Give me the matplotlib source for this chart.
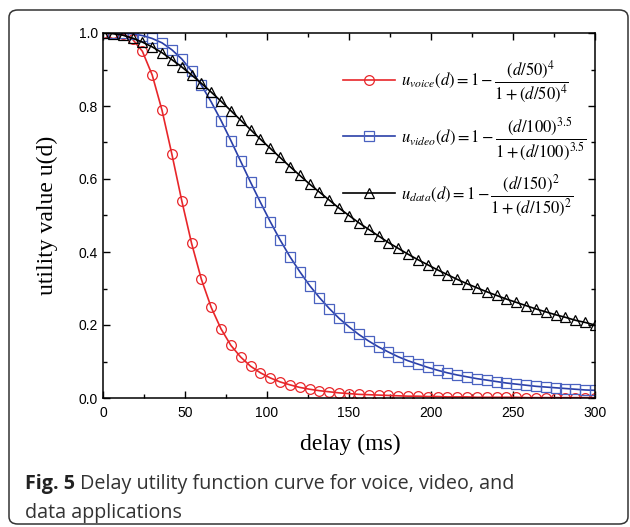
import matplotlib
matplotlib.use("Agg")
import matplotlib.pyplot as plt
from matplotlib.patches import FancyBboxPatch
from matplotlib.ticker import MultipleLocator

delay = list(range(0, 301, 6))

uVoice = [1.000, 1.000, 0.997, 0.983, 0.950, 0.885, 0.788, 0.668, 0.541, 0.424,
          0.325, 0.248, 0.189, 0.144, 0.112, 0.087, 0.069, 0.055, 0.044, 0.036,
          0.029, 0.024, 0.020, 0.017, 0.014, 0.012, 0.010, 0.009, 0.008, 0.007,
          0.006, 0.005, 0.005, 0.004, 0.004, 0.003, 0.003, 0.003, 0.002, 0.002,
          0.002, 0.002, 0.002, 0.001, 0.001, 0.001, 0.001, 0.001, 0.001, 0.001,
          0.001]

uVideo = [1.000, 1.000, 0.999, 0.998, 0.993, 0.985, 0.973, 0.954, 0.929, 0.896,
          0.857, 0.811, 0.760, 0.705, 0.648, 0.591, 0.536, 0.483, 0.433, 0.387,
          0.346, 0.308, 0.275, 0.245, 0.218, 0.195, 0.174, 0.156, 0.140, 0.126,
          0.113, 0.102, 0.093, 0.084, 0.076, 0.069, 0.063, 0.058, 0.053, 0.049,
          0.045, 0.041, 0.038, 0.035, 0.032, 0.030, 0.028, 0.026, 0.024, 0.022,
          0.021]

uData = [1.000, 0.998, 0.994, 0.986, 0.975, 0.962, 0.946, 0.927, 0.907, 0.885,
         0.862, 0.838, 0.813, 0.787, 0.761, 0.735, 0.709, 0.684, 0.659, 0.634,
         0.610, 0.586, 0.564, 0.542, 0.520, 0.500, 0.480, 0.462, 0.444, 0.426,
         0.410, 0.394, 0.379, 0.365, 0.351, 0.338, 0.325, 0.313, 0.302, 0.291,
         0.281, 0.271, 0.262, 0.253, 0.244, 0.236, 0.228, 0.221, 0.213, 0.207,
         0.200]

labels = [r'$u_{voice}(d)=1-\dfrac{\left(d/50\right)^4}{1+\left(d/50\right)^4}$',
          r'$u_{video}(d)=1-\dfrac{\left(d/100\right)^{3.5}}{1+\left(d/100\right)^{3.5}}$',
          r'$u_{data}(d)=1-\dfrac{\left(d/150\right)^2}{1+\left(d/150\right)^2}$']

plt.rcParams['mathtext.fontset'] = 'stix'
plt.rcParams['font.family'] = 'Liberation Sans'

W, H = 630, 527
fig = plt.figure(figsize=(W / 100, H / 100), dpi=100)
axL, axR, axT, axB = 103, 595, 33, 398
ax = fig.add_axes([axL / W, 1 - axB / H, (axR - axL) / W, (axB - axT) / H])

ax.plot(delay, uVoice, color='#e8262a', lw=1.2, marker='o', ms=7,
        mfc='none', mew=0.9, label=labels[0])
ax.plot(delay, uVideo, color='#2a3fa8', lw=1.2, marker='s', ms=6.5,
        mfc='none', mew=0.9, mec='#4a62c0', label=labels[1])
ax.plot(delay, uData, color='black', lw=1.2, marker='^', ms=7.5,
        mfc='none', mew=0.9, label=labels[2])

ax.set_xlim(0, 300)
ax.set_ylim(0, 1.0)
ax.xaxis.set_major_locator(MultipleLocator(50))
ax.xaxis.set_minor_locator(MultipleLocator(25))
ax.yaxis.set_major_locator(MultipleLocator(0.2))
ax.yaxis.set_minor_locator(MultipleLocator(0.1))
ax.set_yticks(ax.get_yticks())
ax.set_yticklabels([f"{v:.1f}" for v in ax.get_yticks()])
ax.set_ylim(0, 1.0)
ax.tick_params(which='both', direction='in', top=True, right=True, labelsize=10)
ax.tick_params(axis='x', pad=6)
ax.tick_params(which='major', length=5, width=1)
ax.tick_params(which='minor', length=3, width=1)
for s in ax.spines.values():
    s.set_linewidth(1.1)

ax.set_xlabel('delay (ms)', family='Liberation Serif', fontsize=17)
ax.xaxis.set_label_coords((350 - axL) / (axR - axL), (axB - 444) / (axB - axT))
ax.set_ylabel('utility value u(d)', family='Liberation Serif', fontsize=17)
ax.yaxis.set_label_coords((47 - axL) / (axR - axL), 0.5)
ax.xaxis.label.set_va('center')
ax.yaxis.label.set_va('center')

leg = ax.legend(loc='upper left', bbox_to_anchor=((343 - axL) / (axR - axL), (axB - 59) / (axB - axT)),
                frameon=False, fontsize=12, handlelength=3.1, labelspacing=0.62,
                handletextpad=0.4, borderaxespad=0, borderpad=0)

# rounded frame around the whole figure
frame = FancyBboxPatch((9 / W, 3 / H), (628 - 9) / W, (H - 3 - 10) / H,
                       boxstyle='round,pad=0,rounding_size=0.014',
                       transform=fig.transFigure, fill=False,
                       edgecolor='#333333', lw=1.1)
fig.patches.append(frame)

# caption with bold "Fig. 5"
capFont = 'Open Sans'
capColor = '#333333'
t = fig.text(25 / W, 1 - 484 / H, 'Fig. 5', family=capFont, weight='bold',
             fontsize=14.2, va='center', color='#222222')
fig.canvas.draw()
bb = t.get_window_extent(fig.canvas.get_renderer())
fig.text(bb.x1 / W, 1 - 484 / H, ' Delay utility function curve for voice, video, and',
         family=capFont, fontsize=14.2, va='center', color=capColor)
fig.text(25 / W, 1 - 513 / H, 'data applications', family=capFont, fontsize=14.2,
         va='center', color=capColor)

fig.savefig('out.png', dpi=100)
